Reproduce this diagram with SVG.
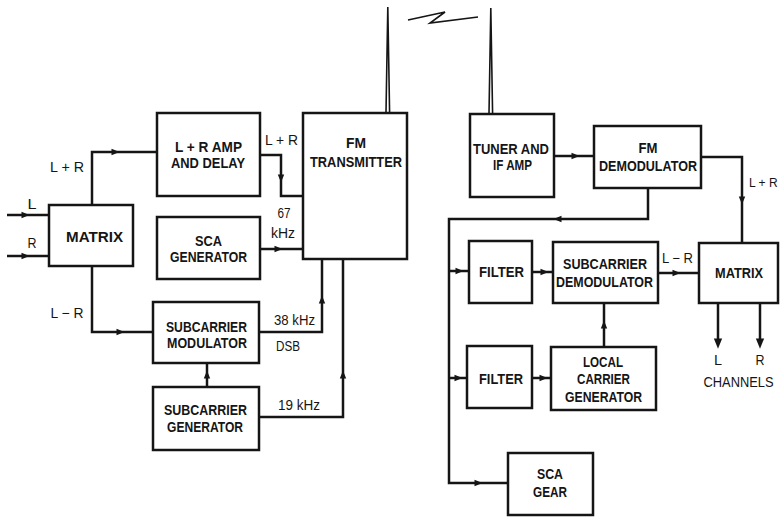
<svg xmlns="http://www.w3.org/2000/svg" xmlns:xlink="http://www.w3.org/1999/xlink" width="781" height="517" viewBox="0 0 781 517">
<style>
.box{fill:#fff;stroke:#151515;stroke-width:2.5}
.w{fill:none;stroke:#151515;stroke-width:2.5;stroke-linejoin:miter}
.ant{fill:none;stroke:#151515;stroke-width:1.6}
.t{font-family:"Liberation Sans",Arial,sans-serif;font-weight:bold;font-size:15px;text-anchor:middle;fill:#151515}
.l{font-family:"Liberation Sans",Arial,sans-serif;font-weight:normal;font-size:14px;text-anchor:middle;fill:#151515}
.ah{fill:#151515}
</style>
<defs>
<path id="a" class="ah" d="M4.5,0 L-3.5,-3.2 L-3.5,3.2 Z"/>
</defs>
<rect width="781" height="517" fill="#fff"/>

<g id="connectors">
<path class="w" d="M7,215 H49"/>
<path class="w" d="M7,256 H49"/>
<path class="w" d="M92,205 V152 H157"/>
<path class="w" d="M260,155 H281 V196 H303"/>
<path class="w" d="M260,249 H303"/>
<path class="w" d="M92,266 V332 H153"/>
<path class="w" d="M259,332 H322 V259"/>
<path class="w" d="M207,387 V363"/>
<path class="w" d="M259,417 H343 V259"/>
<path class="ant" d="M386,113 L387.8,7 L389.6,113"/>
<path class="ant" d="M489,114 L490.8,8 L492.6,114"/>
<path class="ant" d="M408,20 L445,12 L430,23 L478,17"/>
<path class="w" d="M554,156 H594"/>
<path class="w" d="M701,157 H742 V243"/>
<path class="w" d="M648,188 V219 H449 V483 H508"/>
<path class="w" d="M449,271 H469"/>
<path class="w" d="M449,378 H467"/>
<path class="w" d="M532,272 H553"/>
<path class="w" d="M658,273 H699"/>
<path class="w" d="M532,378 H551"/>
<path class="w" d="M604,347 V303"/>
<path class="w" d="M718,303 V340"/>
<path class="w" d="M760,303 V340"/>
<use xlink:href="#a" transform="translate(25,215)"/>
<use xlink:href="#a" transform="translate(25,256)"/>
<use xlink:href="#a" transform="translate(115,152)"/>
<use xlink:href="#a" transform="translate(281,178) rotate(90)"/>
<use xlink:href="#a" transform="translate(278,249)"/>
<use xlink:href="#a" transform="translate(120,332)"/>
<use xlink:href="#a" transform="translate(322,300) rotate(-90)"/>
<use xlink:href="#a" transform="translate(207,375) rotate(-90)"/>
<use xlink:href="#a" transform="translate(343,375) rotate(-90)"/>
<use xlink:href="#a" transform="translate(575,156)"/>
<use xlink:href="#a" transform="translate(742,200) rotate(90)"/>
<use xlink:href="#a" transform="translate(558,219) rotate(180)"/>
<use xlink:href="#a" transform="translate(478,483)"/>
<use xlink:href="#a" transform="translate(459,271)"/>
<use xlink:href="#a" transform="translate(458,378)"/>
<use xlink:href="#a" transform="translate(544,272)"/>
<use xlink:href="#a" transform="translate(676,273)"/>
<use xlink:href="#a" transform="translate(543,378)"/>
<use xlink:href="#a" transform="translate(604,325) rotate(-90)"/>
<use xlink:href="#a" transform="translate(718,343) rotate(90) scale(1.3)"/>
<use xlink:href="#a" transform="translate(760,343) rotate(90) scale(1.3)"/>
</g>

<g id="labels">
<text class="l" x="32" y="209" textLength="9" lengthAdjust="spacingAndGlyphs">L</text>
<text class="l" x="32" y="248" textLength="9" lengthAdjust="spacingAndGlyphs">R</text>
<text class="l" x="67" y="172" textLength="34" lengthAdjust="spacingAndGlyphs">L + R</text>
<text class="l" x="67" y="318" textLength="33" lengthAdjust="spacingAndGlyphs">L − R</text>
<text class="l" x="281.5" y="145" textLength="33" lengthAdjust="spacingAndGlyphs">L + R</text>
<text class="l" x="284" y="218" textLength="13" lengthAdjust="spacingAndGlyphs">67</text>
<text class="l" x="283" y="238" textLength="24" lengthAdjust="spacingAndGlyphs">kHz</text>
<text class="l" x="294.5" y="325" textLength="41" lengthAdjust="spacingAndGlyphs">38 kHz</text>
<text class="l" x="288" y="351" textLength="24" lengthAdjust="spacingAndGlyphs">DSB</text>
<text class="l" x="299" y="410" textLength="42" lengthAdjust="spacingAndGlyphs">19 kHz</text>
<text x="749" y="187" font-family="Liberation Sans, Arial, sans-serif" font-size="12" fill="#151515">L + R</text>
<text class="l" x="677.5" y="263" textLength="31" lengthAdjust="spacingAndGlyphs">L − R</text>
<text class="l" x="718" y="365" textLength="8" lengthAdjust="spacingAndGlyphs">L</text>
<text class="l" x="760" y="365" textLength="9" lengthAdjust="spacingAndGlyphs">R</text>
<text class="l" x="738.5" y="387" textLength="70" lengthAdjust="spacingAndGlyphs">CHANNELS</text>
</g>

<g id="matrix-tx">
<rect class="box" x="49" y="205" width="84" height="61"/>
<text class="t" x="94.5" y="242" textLength="57" lengthAdjust="spacingAndGlyphs">MATRIX</text>
</g>
<g id="lr-amp-delay">
<rect class="box" x="157" y="113" width="103" height="83"/>
<text class="t" x="208.5" y="152" textLength="67" lengthAdjust="spacingAndGlyphs">L + R AMP</text>
<text class="t" x="208" y="168" textLength="74" lengthAdjust="spacingAndGlyphs">AND DELAY</text>
</g>
<g id="sca-generator">
<rect class="box" x="157" y="217" width="103" height="62"/>
<text class="t" x="208.5" y="246" textLength="27" lengthAdjust="spacingAndGlyphs">SCA</text>
<text class="t" x="208.5" y="262" textLength="77" lengthAdjust="spacingAndGlyphs">GENERATOR</text>
</g>
<g id="fm-transmitter">
<rect class="box" x="303" y="113" width="104" height="146"/>
<text class="t" x="356" y="148" textLength="20" lengthAdjust="spacingAndGlyphs">FM</text>
<text class="t" x="356" y="167" textLength="92" lengthAdjust="spacingAndGlyphs">TRANSMITTER</text>
</g>
<g id="subcarrier-modulator">
<rect class="box" x="153" y="302" width="106" height="61"/>
<text class="t" x="206.5" y="332" textLength="81" lengthAdjust="spacingAndGlyphs">SUBCARRIER</text>
<text class="t" x="207" y="348" textLength="80" lengthAdjust="spacingAndGlyphs">MODULATOR</text>
</g>
<g id="subcarrier-generator">
<rect class="box" x="153" y="387" width="106" height="63"/>
<text class="t" x="205.5" y="415" textLength="83" lengthAdjust="spacingAndGlyphs">SUBCARRIER</text>
<text class="t" x="205" y="432" textLength="76" lengthAdjust="spacingAndGlyphs">GENERATOR</text>
</g>
<g id="tuner-if-amp">
<rect class="box" x="470" y="114" width="84" height="83"/>
<text class="t" x="511" y="154" textLength="76" lengthAdjust="spacingAndGlyphs">TUNER AND</text>
<text class="t" x="512.5" y="170" textLength="39" lengthAdjust="spacingAndGlyphs">IF AMP</text>
</g>
<g id="fm-demodulator">
<rect class="box" x="594" y="126" width="107" height="62"/>
<text class="t" x="648" y="153" textLength="19" lengthAdjust="spacingAndGlyphs">FM</text>
<text class="t" x="648" y="171" textLength="98" lengthAdjust="spacingAndGlyphs">DEMODULATOR</text>
</g>
<g id="filter-1">
<rect class="box" x="469" y="241" width="63" height="62"/>
<text class="t" x="501.5" y="277" textLength="45" lengthAdjust="spacingAndGlyphs">FILTER</text>
</g>
<g id="subcarrier-demodulator">
<rect class="box" x="553" y="242" width="105" height="61"/>
<text class="t" x="605" y="269" textLength="84" lengthAdjust="spacingAndGlyphs">SUBCARRIER</text>
<text class="t" x="604.5" y="287" textLength="97" lengthAdjust="spacingAndGlyphs">DEMODULATOR</text>
</g>
<g id="matrix-rx">
<rect class="box" x="699" y="243" width="79" height="60"/>
<text class="t" x="739" y="278" textLength="48" lengthAdjust="spacingAndGlyphs">MATRIX</text>
</g>
<g id="filter-2">
<rect class="box" x="467" y="346" width="65" height="62"/>
<text class="t" x="501" y="384" textLength="44" lengthAdjust="spacingAndGlyphs">FILTER</text>
</g>
<g id="local-carrier-generator">
<rect class="box" x="551" y="347" width="105" height="63"/>
<text class="t" x="603" y="367" textLength="40" lengthAdjust="spacingAndGlyphs">LOCAL</text>
<text class="t" x="603.5" y="384" textLength="53" lengthAdjust="spacingAndGlyphs">CARRIER</text>
<text class="t" x="603.5" y="402" textLength="77" lengthAdjust="spacingAndGlyphs">GENERATOR</text>
</g>
<g id="sca-gear">
<rect class="box" x="508" y="453" width="85" height="62"/>
<text class="t" x="550" y="479" textLength="26" lengthAdjust="spacingAndGlyphs">SCA</text>
<text class="t" x="550" y="497" textLength="34" lengthAdjust="spacingAndGlyphs">GEAR</text>
</g>
</svg>
